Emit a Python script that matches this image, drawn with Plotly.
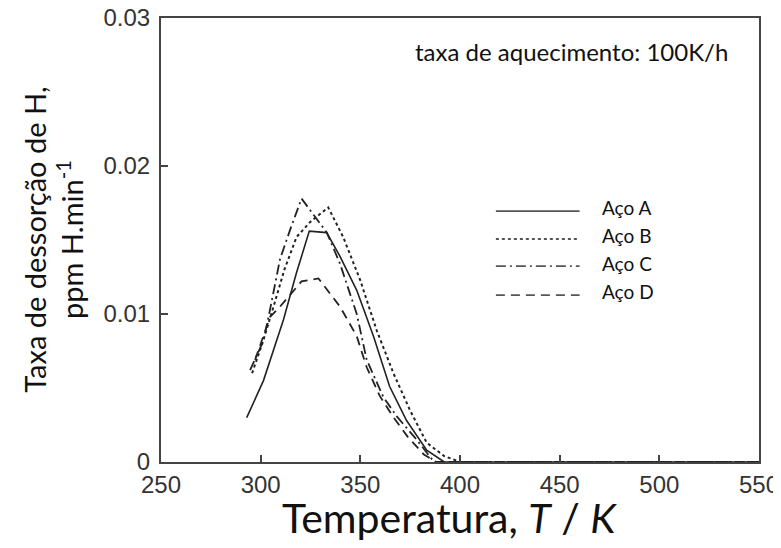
import plotly.graph_objects as go

# Data
T_A = [293.0, 301.4, 311.4, 318.0, 324.4, 333.1, 339.8, 348.2, 356.6, 364.7, 373.2, 383.3, 392.1, 550.0]
rate_A = [0.0030, 0.0055, 0.0096, 0.0128, 0.0156, 0.0155, 0.0139, 0.0116, 0.0085, 0.0051, 0.0028, 0.0008, 0.0, 0.0]

T_B = [295.7, 300.8, 305.8, 311.9, 318.0, 324.7, 333.9, 341.4, 349.9, 358.2, 366.6, 374.9, 383.3, 392.1, 400.2, 550.0]
rate_B = [0.0060, 0.0080, 0.0102, 0.0130, 0.0152, 0.0162, 0.0172, 0.0152, 0.0123, 0.0089, 0.0060, 0.0035, 0.0013, 0.0004, 0.0, 0.0]

T_C = [294.7, 301.4, 304.7, 309.7, 314.8, 320.5, 327.1, 333.2, 339.8, 348.2, 353.2, 361.5, 368.2, 378.3, 387.0, 550.0]
rate_C = [0.0062, 0.0082, 0.0103, 0.0137, 0.0157, 0.0178, 0.0166, 0.0155, 0.0134, 0.0100, 0.0069, 0.0044, 0.0031, 0.0015, 0.0, 0.0]

T_D = [297.2, 304.7, 309.7, 316.4, 320.5, 329.0, 339.8, 348.2, 353.2, 359.6, 366.7, 373.8, 381.9, 388.0, 550.0]
rate_D = [0.0069, 0.0098, 0.0105, 0.0116, 0.0122, 0.0124, 0.0105, 0.0085, 0.0064, 0.0045, 0.0030, 0.0017, 0.0005, 0.0, 0.0]

series_names = ["Aço A", "Aço B", "Aço C", "Aço D"]
x_ticks = [250, 300, 350, 400, 450, 500, 550]
y_ticks = [0, 0.01, 0.02, 0.03]
y_tick_labels = ["0", "0.01", "0.02", "0.03"]

dashes = ["solid", "dot", "10px,4px,2px,4px", "9px,6px"]
widths = [1.6, 2.0, 1.8, 1.8]
line_col = "#222222"

fig = go.Figure()
for name, xs, ys, d, w in zip(series_names, [T_A, T_B, T_C, T_D],
                              [rate_A, rate_B, rate_C, rate_D], dashes, widths):
    fig.add_trace(go.Scatter(x=xs, y=ys, mode="lines", name=name,
                             line=dict(color=line_col, width=w, dash=d),
                             showlegend=False))

# Manual legend (long line samples as in the reference)
leg_line_y = [0.565, 0.502, 0.441, 0.376]
leg_text_y = [0.574, 0.511, 0.448, 0.383]
for name, d, w, ly, ty in zip(series_names, dashes, widths, leg_line_y, leg_text_y):
    fig.add_shape(type="line", xref="paper", yref="paper", x0=0.560, x1=0.700,
                  y0=ly, y1=ly, line=dict(color="#555555", width=w, dash=d))
    fig.add_annotation(xref="paper", yref="paper", x=0.734, y=ty, text=name,
                       showarrow=False, xanchor="left", yanchor="middle",
                       font=dict(family="Lato", size=19, color="#111111"))

fig.add_annotation(xref="paper", yref="paper", x=0.421, y=0.925,
                   text="taxa de aquecimento: 100K/h", showarrow=False,
                   xanchor="left", yanchor="middle",
                   font=dict(family="Lato", size=24, color="#111111"))

# Axis titles
fig.add_annotation(xref="paper", yref="paper", x=0.483, y=-0.125,
                   text="Temperatura, <i>T</i> / <i>K</i>", showarrow=False,
                   xanchor="center", yanchor="middle",
                   font=dict(family="Lato", size=41, color="#111111"))
fig.add_annotation(xref="paper", yref="paper", x=-0.181, y=0.5,
                   text="Taxa de dessorção de H,<br>ppm H.min<sup>-1</sup>",
                   showarrow=False, textangle=-90,
                   xanchor="center", yanchor="middle",
                   font=dict(family="Lato", size=29, color="#111111"))

axis_common = dict(showgrid=False, zeroline=False, showline=True, linecolor="#444444",
                   linewidth=2, mirror=True, ticks="inside", ticklen=7,
                   tickcolor="#444444", tickwidth=1.5, automargin=False,
                   ticklabeloverflow="allow",
                   tickfont=dict(family="Liberation Sans", size=24, color="#333333"))

# The page body adds an 8px offset, so the figure is sized to compensate.
fig.update_layout(
    width=773, height=540,
    margin=dict(l=153, r=22, t=10, b=86),
    paper_bgcolor="white", plot_bgcolor="white",
    xaxis=dict(range=[250, 550], tickvals=x_ticks, ticklabelstandoff=0, **axis_common),
    yaxis=dict(range=[0, 0.03], tickvals=y_ticks, ticktext=y_tick_labels,
               ticklabelstandoff=4, **axis_common),
)

fig.write_html("out.html")
